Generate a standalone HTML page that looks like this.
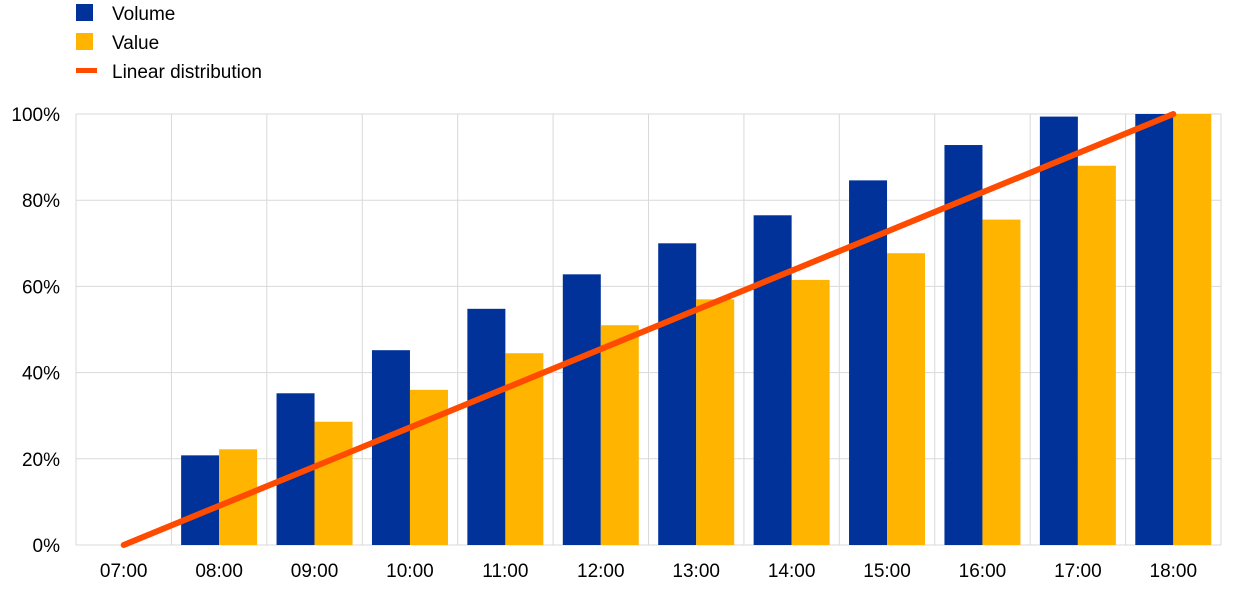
<!DOCTYPE html>
<html><head><meta charset="utf-8"><style>
body{margin:0;background:#fff;width:1240px;height:590px;overflow:hidden;font-family:"Liberation Sans",sans-serif}
</style></head><body>
<svg id="chart" width="1240" height="590" xmlns="http://www.w3.org/2000/svg" font-family="Liberation Sans, sans-serif">
<g>
<rect x="76" y="4" width="17" height="17" fill="#003299"/>
<text x="112" y="20" font-size="19">Volume</text>
<rect x="76" y="33" width="17" height="17" fill="#ffb400"/>
<text x="112" y="49" font-size="19">Value</text>
<rect x="76" y="68" width="21" height="5" fill="#ff4b00"/>
<text x="112" y="78" font-size="19">Linear distribution</text>
</g>
<g id="grid"></g>
<g id="bars"></g>
<g id="line"></g>
<g id="axes"></g>
</svg>
<script>
const categories=["07:00","08:00","09:00","10:00","11:00","12:00","13:00","14:00","15:00","16:00","17:00","18:00"];
const volume=[0,20.8,35.2,45.2,54.8,62.8,70,76.5,84.6,92.8,99.4,100];
const valueSeries=[0,22.2,28.6,36,44.5,51,57,61.5,67.7,75.5,88,100];
const linear=[0,100];
const yTicks=[0,20,40,60,80,100];
const yTickLabels=["0%","20%","40%","60%","80%","100%"];
const L=76,R=1221,T=114,B=545;
const band=(R-L)/categories.length;
const xC=i=>L+band*(i+0.5);
const y=v=>B-(v/100)*(B-T);
const NS="http://www.w3.org/2000/svg";
function mk(tag,attrs,parent){const e=document.createElementNS(NS,tag);for(const k in attrs)e.setAttribute(k,attrs[k]);document.getElementById(parent).appendChild(e);return e;}
yTicks.forEach((t,i)=>{
 const g=mk('line',{x1:L,x2:R,y1:y(t),y2:y(t),stroke:'#d9d9d9','stroke-width':1},'grid');
 
 
 const tx=mk('text',{x:60,y:y(t)+7,'font-size':19,'text-anchor':'end'},'axes');
 tx.textContent=yTickLabels[i];
 
 
});
for(let i=0;i<=categories.length;i++){
 const g=mk('line',{x1:L+band*i,x2:L+band*i,y1:T,y2:B,stroke:'#d9d9d9','stroke-width':1},'grid');
 
 
}
const bw=38;
categories.forEach((c,i)=>{
 const cx=xC(i);
 const b1=mk('rect',{x:cx-bw,y:y(volume[i]),width:bw,height:B-y(volume[i]),fill:'#003299'},'bars');
 
 
 const b2=mk('rect',{x:cx,y:y(valueSeries[i]),width:bw,height:B-y(valueSeries[i]),fill:'#ffb400'},'bars');
 
 
 const t=mk('text',{x:cx,y:577,'font-size':19,'text-anchor':'middle'},'axes');
 t.textContent=c;
 
 
});
const ln=mk('line',{x1:xC(0),y1:y(linear[0]),x2:xC(categories.length-1),y2:y(linear[1]),stroke:'#ff4b00','stroke-width':6,'stroke-linecap':'round'},'line');


</script>
</body></html>
